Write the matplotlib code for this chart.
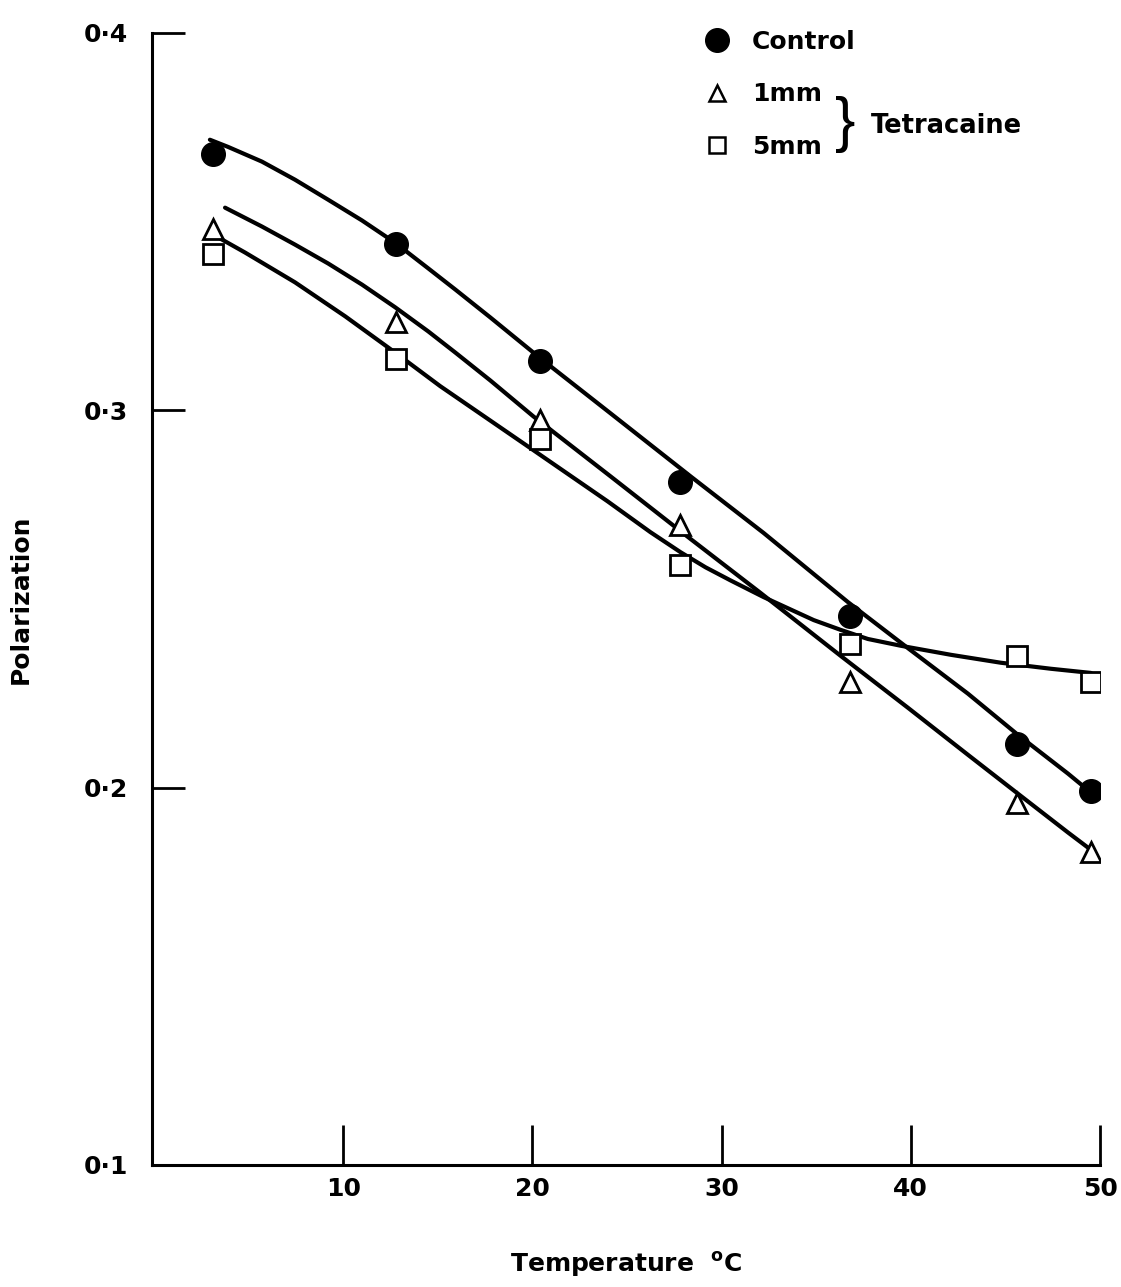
import matplotlib
matplotlib.use("Agg")
import matplotlib.pyplot as plt
from matplotlib.lines import Line2D

plt.rcParams['font.family'] = ['DejaVu Sans']
plt.rcParams['font.weight'] = 'bold'
plt.rcParams['mathtext.fontset'] = 'custom'
plt.rcParams['mathtext.rm'] = 'DejaVu Sans:bold'

# measured points
temp = [3.1, 12.8, 20.4, 27.8, 36.8, 45.6, 49.5]
control = [0.368, 0.344, 0.313, 0.281, 0.2455, 0.2115, 0.199]
tet_1mm = [0.348, 0.3235, 0.2975, 0.2695, 0.228, 0.196, 0.183]
tet_5mm = [0.3415, 0.3135, 0.2925, 0.259, 0.238, 0.235, 0.228]

# hand-drawn fit curves
control_fit_t = [2.96, 3.92, 5.71, 7.46, 9.21, 11.0, 12.75, 14.5, 15.93, 17.78, 20.42, 24.13,
                 28.36, 32.22, 36.67, 39.84, 43.02, 45.66, 48.31, 49.52]
control_fit_p = [0.3717, 0.3698, 0.3659, 0.3611, 0.3558, 0.3503, 0.3444, 0.3376, 0.3320, 0.3246,
                 0.3138, 0.2992, 0.2825, 0.2675, 0.2492, 0.2370, 0.2249, 0.2140, 0.2037, 0.1987]
fit_1mm_t = [3.76, 5.71, 7.46, 9.21, 11.0, 12.75, 14.5, 15.93, 17.78, 20.05, 24.13,
             28.36, 32.06, 36.3, 39.84, 43.02, 45.66, 48.31, 49.63]
fit_1mm_p = [0.3537, 0.3487, 0.3439, 0.3389, 0.3333, 0.3273, 0.3209, 0.3153, 0.3079, 0.2984, 0.2825,
             0.2659, 0.2516, 0.2349, 0.2212, 0.2087, 0.1984, 0.1881, 0.1831]
fit_5mm_t = [3.12, 4.82, 7.46, 10.11, 12.75, 15.13, 19.89, 23.97, 26.24, 27.83, 29.15, 30.48,
             32.22, 34.87, 36.3, 37.73, 39.47, 42.12, 44.76, 47.41, 49.52]
fit_5mm_p = [0.3466, 0.3418, 0.3339, 0.3249, 0.3153, 0.3064, 0.2900, 0.2759, 0.2677, 0.2624, 0.2584,
             0.2549, 0.2505, 0.2444, 0.2418, 0.2394, 0.2376, 0.2352, 0.2331, 0.2315, 0.2304]

xticks = [10, 20, 30, 40, 50]
yticks = [0.1, 0.2, 0.3, 0.4]
ytick_labels = ['0·1', '0·2', '0·3', '0·4']

fig = plt.figure(figsize=(11.21, 12.87), dpi=100)
ax = fig.add_axes([0.1356, 0.0948, 0.8457, 0.8796])

lw = 3.0
for t, p in [(control_fit_t, control_fit_p), (fit_1mm_t, fit_1mm_p), (fit_5mm_t, fit_5mm_p)]:
    ax.plot(t, p, color='black', lw=lw, solid_capstyle='round', solid_joinstyle='round', zorder=2)

ax.plot(temp, control, 'o', color='black', ms=17, zorder=4)
ax.plot(temp, tet_1mm, '^', mfc='white', mec='black', mew=2.0, ms=15, zorder=3)
ax.plot(temp, tet_5mm, 's', mfc='white', mec='black', mew=2.0, ms=15, zorder=3)

ax.set_xlim(-0.1, 50)
ax.set_ylim(0.1, 0.4)
ax.spines['top'].set_visible(False)
ax.spines['right'].set_visible(False)
ax.spines['left'].set_linewidth(2.2)
ax.spines['bottom'].set_linewidth(2.2)

ax.set_xticks(xticks)
ax.set_yticks(yticks)
ax.set_yticklabels(ytick_labels)
ax.tick_params(axis='x', direction='in', length=29, width=2.0, pad=9, labelsize=18)
ax.tick_params(axis='y', direction='in', length=24, width=2.0, pad=17, labelsize=18)

ax.set_xlabel(r'Temperature  $^{\rm o}$C', fontsize=18, fontweight='bold', labelpad=35)
ax.set_ylabel('Polarization', fontsize=18, fontweight='bold', labelpad=37)

handles = [
    Line2D([], [], ls='none', marker='o', color='black', ms=17),
    Line2D([], [], ls='none', marker='^', mfc='white', mec='black', mew=1.8, ms=12),
    Line2D([], [], ls='none', marker='s', mfc='white', mec='black', mew=1.8, ms=12),
]
ax.legend(handles, ['Control', '1mm', '5mm'], loc='upper left',
          bbox_to_anchor=(0.583, 1.003), frameon=False, numpoints=1,
          handlelength=1.0, handletextpad=0.9, labelspacing=1.15,
          borderpad=0, borderaxespad=0, prop={'size': 18, 'weight': 'bold'})

ax.text(0.731, 0.919, '}', transform=ax.transAxes, fontsize=44,
        family='Liberation Sans', fontweight='normal', ha='center', va='center')
ax.text(0.758, 0.9175, 'Tetracaine', transform=ax.transAxes, fontsize=18.5,
        fontweight='bold', ha='left', va='center')

fig.savefig('out.png', dpi=100)
